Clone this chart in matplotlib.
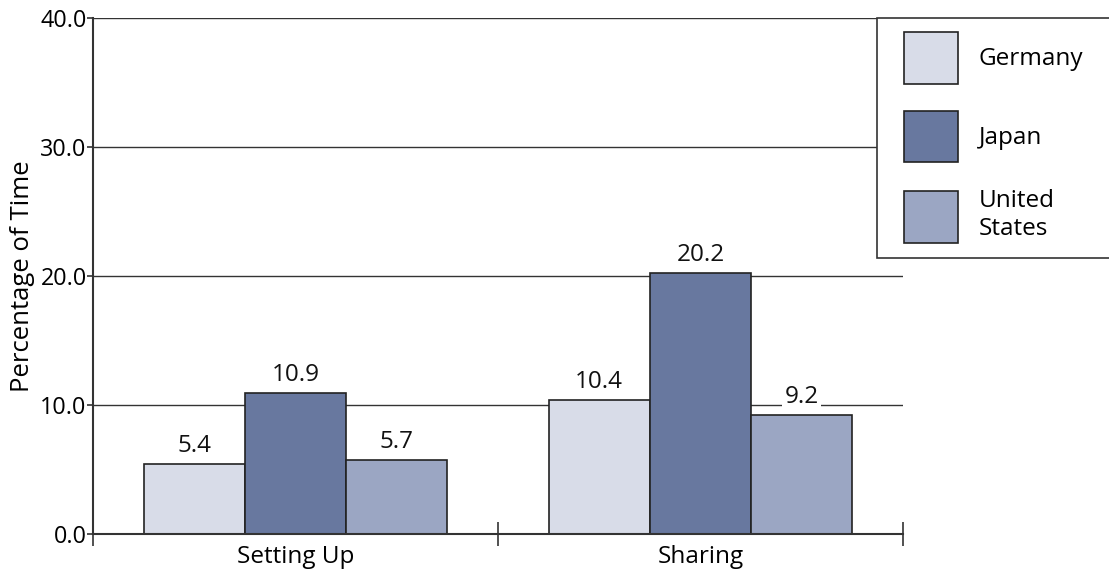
import matplotlib
matplotlib.use("Agg")
import matplotlib.pyplot as plt
from matplotlib.patches import Rectangle, Patch
import numpy as np

categories = ["Setting Up", "Sharing"]
countries = ["Germany", "Japan", "United\nStates"]
germany = [5.4, 10.4]
japan = [10.9, 20.2]
united_states = [5.7, 9.2]
colors = ["#D8DCE8", "#68789F", "#9BA6C3"]
yticks = [0.0, 10.0, 20.0, 30.0, 40.0]

plt.rcParams['font.family'] = ['Open Sans', 'DejaVu Sans']
FS = 17.5
fig = plt.figure(figsize=(11.09, 5.76), dpi=100)
W, H = 1109, 576
ax = fig.add_axes([93 / W, (576 - 534) / H, 810 / W, 516 / H])

series = [germany, japan, united_states]
width = 0.25
centers = np.arange(len(categories)) + 0.5
for i, (vals, col) in enumerate(zip(series, colors)):
    xs = centers + (i - 1) * width
    ax.bar(xs, vals, width=width, color=col, edgecolor="#222222",
           linewidth=1.2, zorder=3)
    for x, v in zip(xs, vals):
        ax.text(x, v + 0.93, f"{v:.1f}", ha="center", va="baseline", fontsize=FS,
                color="#111111", zorder=4,
                bbox=dict(facecolor="white", edgecolor="none", pad=1.5))

ax.set_xlim(0, 2)
ax.set_ylim(0, 40)
ax.set_yticks(yticks)
ax.set_yticklabels([f"{t:.1f}" for t in yticks], fontsize=16.8)
ax.set_xticks([0, 1, 2])
ax.set_xticklabels([])
ax.set_xticks(centers, minor=True)
ax.set_xticklabels(categories, minor=True, fontsize=FS)
ax.tick_params(axis="x", which="minor", length=0, pad=8)
ax.tick_params(axis="x", which="major", direction="inout", length=17, width=1.2, color="#333333")
ax.tick_params(axis="y", direction="out", length=4, width=1.2, color="#333333", pad=0.5)
for t in yticks[1:]:
    ax.axhline(t, color="#333333", linewidth=1.0, zorder=1)
for s in ["top", "right"]:
    ax.spines[s].set_visible(False)
for s in ["left", "bottom"]:
    ax.spines[s].set_color("#333333")
    ax.spines[s].set_linewidth(1.5)
ax.spines["left"].set_zorder(5)
ax.spines["bottom"].set_zorder(5)
ax.set_ylabel("Percentage of Time", fontsize=18.5)
ax.yaxis.set_label_coords(-0.072, 0.5)

# legend box
box = Rectangle((877 / W, (576 - 258) / H), 0.5, 240 / H, transform=fig.transFigure,
                facecolor="white", edgecolor="#333333", linewidth=1.2, zorder=10)
fig.patches.append(box)
handles = [Patch(facecolor=c, edgecolor="#222222", linewidth=1.2) for c in colors]
leg = fig.legend(handles, countries, loc="upper left",
                 bbox_to_anchor=(904 / W, 1 - 32 / H), frameon=False, borderpad=0,
                 borderaxespad=0, fontsize=FS, handlelength=2.22, handleheight=2.9,
                 labelspacing=1.1, handletextpad=0.86)
leg.set_zorder(11)

fig.savefig("out.png", dpi=100)
